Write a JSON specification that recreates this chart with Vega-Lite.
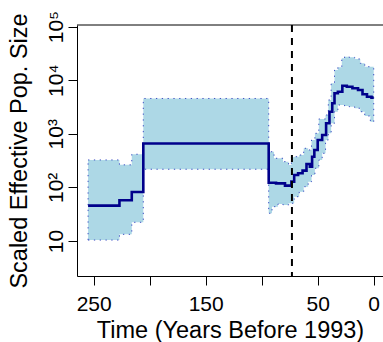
{
  "$schema": "https://vega.github.io/schema/vega-lite/v6.json",
  "width": 306,
  "height": 251,
  "autosize": {"type": "none"},
  "padding": {"left": 77, "top": 25, "right": 0, "bottom": 66},
  "background": "white",
  "config": {
    "view": {"stroke": null},
    "font": "Liberation Sans",
    "axis": {
      "grid": false,
      "domainColor": "black",
      "tickColor": "black",
      "labelColor": "black",
      "titleColor": "black",
      "labelFont": "Liberation Sans",
      "titleFont": "Liberation Sans",
      "titleFontWeight": "normal",
      "labelFontSize": 21,
      "titleFontSize": 23.5,
      "tickSize": 9,
      "domainWidth": 1,
      "tickWidth": 1
    }
  },
  "datasets": {
    "med": [
      {"t": 0, "med": 4720},
      {"t": 2, "med": 4920},
      {"t": 6, "med": 5460},
      {"t": 10, "med": 6560},
      {"t": 14, "med": 7060},
      {"t": 19, "med": 7570},
      {"t": 24, "med": 7900},
      {"t": 28, "med": 6100},
      {"t": 32, "med": 5700},
      {"t": 35, "med": 3705},
      {"t": 37, "med": 2585},
      {"t": 39.5, "med": 1570},
      {"t": 42.5, "med": 950},
      {"t": 46, "med": 766},
      {"t": 50, "med": 499},
      {"t": 53, "med": 374},
      {"t": 55, "med": 243},
      {"t": 57, "med": 273},
      {"t": 60, "med": 205},
      {"t": 63.5, "med": 183},
      {"t": 67.5, "med": 170},
      {"t": 71, "med": 128},
      {"t": 73.5, "med": 108},
      {"t": 79.2, "med": 119},
      {"t": 87.2, "med": 122},
      {"t": 93.75, "med": 660},
      {"t": 205.7, "med": 82},
      {"t": 216, "med": 57.5},
      {"t": 227, "med": 45.6},
      {"t": 255, "med": 45.6}
    ],
    "band": [
      {"t": 0, "lo": 1680, "hi": 17850},
      {"t": 3, "lo": 2150, "hi": 17850},
      {"t": 8, "lo": 2585, "hi": 20650},
      {"t": 12, "lo": 2995, "hi": 24900},
      {"t": 17, "lo": 3205, "hi": 26700},
      {"t": 22, "lo": 3300, "hi": 27400},
      {"t": 26, "lo": 3445, "hi": 25650},
      {"t": 28.5, "lo": 3445, "hi": 17400},
      {"t": 32, "lo": 2585, "hi": 15500},
      {"t": 35, "lo": 1570, "hi": 8750},
      {"t": 38, "lo": 1020, "hi": 4275},
      {"t": 40.5, "lo": 766, "hi": 2244},
      {"t": 43, "lo": 432, "hi": 1890},
      {"t": 46, "lo": 324, "hi": 1890},
      {"t": 49, "lo": 227, "hi": 1020},
      {"t": 52.5, "lo": 170, "hi": 766},
      {"t": 55.5, "lo": 128, "hi": 499},
      {"t": 58.5, "lo": 103, "hi": 536},
      {"t": 62.5, "lo": 83, "hi": 402},
      {"t": 66.5, "lo": 67, "hi": 374},
      {"t": 71, "lo": 50.5, "hi": 363},
      {"t": 73.5, "lo": 50.5, "hi": 262},
      {"t": 76, "lo": 47, "hi": 302},
      {"t": 81, "lo": 49, "hi": 349},
      {"t": 85.5, "lo": 43.7, "hi": 349},
      {"t": 89, "lo": 43.7, "hi": 463},
      {"t": 90.8, "lo": 32.9, "hi": 463},
      {"t": 93.75, "lo": 218, "hi": 4560},
      {"t": 205.7, "lo": 22.3, "hi": 415},
      {"t": 216, "lo": 13.3, "hi": 263},
      {"t": 227, "lo": 10.4, "hi": 325},
      {"t": 255, "lo": 10.4, "hi": 325}
    ]
  },
  "encoding": {
    "x": {
      "field": "t",
      "type": "quantitative",
      "scale": {"domain": [-8.3, 264.9], "reverse": true, "nice": false, "zero": false},
      "axis": {
        "title": "Time (Years Before 1993)",
        "values": [0, 50, 100, 150, 200, 250],
        "labelExpr": "datum.value == 200 || datum.value == 100 ? '' : datum.label",
        "labelFlush": false,
        "labelOverlap": false,
        "labelPadding": 8,
        "titleBaseline": "alphabetic",
        "titleY": 61
      }
    }
  },
  "layer": [
    {
      "data": {"name": "band"},
      "mark": {"type": "area", "interpolate": "step-before", "color": "#ADD8E6", "opacity": 1},
      "encoding": {
        "y": {
          "field": "lo",
          "type": "quantitative",
          "scale": {"type": "log", "domain": [2.22, 107150], "nice": false},
          "axis": {
            "title": "Scaled Effective Pop. Size",
            "values": [10, 100, 1000, 10000, 100000],
            "labelExpr": "datum.value == 10 ? '10' : datum.value == 100 ? '10²' : datum.value == 1000 ? '10³' : datum.value == 10000 ? '10⁴' : '10⁵'",
            "labelAngle": -90,
            "labelAlign": "center",
            "labelBaseline": "alphabetic",
            "labelPadding": 6,
            "labelOverlap": false,
            "titleBaseline": "alphabetic",
            "titleX": -51
          }
        },
        "y2": {"field": "hi"}
      }
    },
    {
      "data": {"name": "band"},
      "mark": {"type": "line", "interpolate": "step-before", "color": "#3f51c4", "strokeWidth": 1, "strokeDash": [1.3, 4.5]},
      "encoding": {"y": {"field": "lo", "type": "quantitative"}}
    },
    {
      "data": {"name": "band"},
      "mark": {"type": "line", "interpolate": "step-before", "color": "#3f51c4", "strokeWidth": 1, "strokeDash": [1.3, 4.5]},
      "encoding": {"y": {"field": "hi", "type": "quantitative"}}
    },
    {
      "data": {"name": "band"},
      "transform": [{"filter": "datum.t == 0 || datum.t == 255"}],
      "mark": {"type": "rule", "color": "#3f51c4", "strokeWidth": 1, "strokeDash": [1.3, 4.5]},
      "encoding": {"y": {"field": "lo", "type": "quantitative"}, "y2": {"field": "hi"}}
    },
    {
      "data": {"name": "med"},
      "mark": {"type": "line", "interpolate": "step-before", "color": "#00008B", "strokeWidth": 2.6},
      "encoding": {"y": {"field": "med", "type": "quantitative"}}
    },
    {
      "data": {"values": [{"yr": 73}]},
      "mark": {"type": "rule", "color": "black", "strokeWidth": 2, "strokeDash": [7, 6]},
      "encoding": {"x": {"field": "yr", "type": "quantitative"}, "y": null}
    },
    {
      "data": {"values": [{"top": 107150}]},
      "mark": {"type": "rule", "color": "black", "strokeWidth": 1},
      "encoding": {"x": null, "y": {"field": "top", "type": "quantitative"}}
    }
  ]
}
